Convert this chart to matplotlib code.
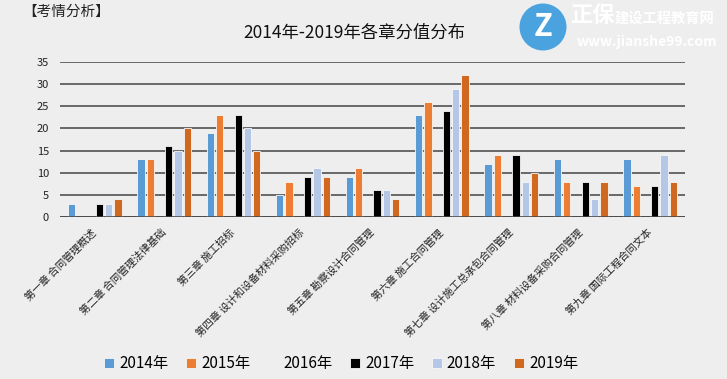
import numpy as np
import matplotlib.pyplot as plt
from matplotlib.patches import Ellipse

plt.rcParams['font.family'] = ['Noto Sans CJK SC', 'DejaVu Sans']

chapters = ['第一章 合同管理概述', '第二章 合同管理法律基础', '第三章 施工招标',
            '第四章 设计和设备材料采购招标', '第五章 勘察设计合同管理', '第六章 施工合同管理',
            '第七章 设计施工总承包合同管理', '第八章 材料设备采购合同管理', '第九章 国际工程合同文本']
years = ['2014年', '2015年', '2016年', '2017年', '2018年', '2019年']
v2014 = [3, 13, 19, 5, 9, 23, 12, 13, 13]
v2015 = [0, 13, 23, 8, 11, 26, 14, 8, 7]
v2016 = [0, 0, 0, 0, 0, 0, 0, 0, 0]
v2017 = [3, 16, 23, 9, 6, 24, 14, 8, 7]
v2018 = [3, 15, 20, 11, 6, 29, 8, 4, 14]
v2019 = [4, 20, 15, 9, 4, 32, 10, 8, 8]
series = [v2014, v2015, v2016, v2017, v2018, v2019]
colors = ['#5B9BD5', '#ED7D31', '#EEEEEE', '#000000', '#B4C7E7', '#D0691F']

bg = '#EEEEEE'
fig = plt.figure(figsize=(7.27, 3.79), dpi=100, facecolor=bg)
ax = fig.add_axes([0.0825, 0.4274, 0.8595, 0.409], facecolor=bg)

x = np.arange(len(chapters))
step = 0.134
for i, (vals, c) in enumerate(zip(series, colors)):
    ax.bar(x + (i - 2.5) * step, vals, width=0.105, color=c, label=years[i],
           edgecolor='#F7F7F7' if i != 2 else bg, linewidth=0.6, zorder=3)

ax.set_xlim(-0.5, len(chapters) - 0.5)
ax.set_ylim(0, 35)
ax.set_yticks(range(0, 36, 5))
ax.grid(axis='y', color='#444444', linewidth=1.1, zorder=1)
ax.axhline(0, color='#444444', linewidth=1.1, zorder=4)
for s in ax.spines.values():
    s.set_visible(False)
ax.tick_params(length=0, labelsize=8, colors='#222222')
ax.tick_params(axis='y', pad=8)
ax.set_xticks(x)
ax.set_xticklabels(chapters, rotation=45, ha='right', va='center',
                   rotation_mode='anchor', fontsize=7.5)
ax.tick_params(axis='x', pad=10)

fig.text(0.487, 0.913, '2014年-2019年各章分值分布', ha='center', va='center',
         fontsize=12.5, color='#111111')
fig.text(0.030, 0.968, '【考情分析】', ha='left', va='center', fontsize=10.5,
         color='#222222')

# logo
logo = Ellipse((543 / 727, 1 - 27 / 379), 47 / 727, 47 / 379,
               transform=fig.transFigure, facecolor='#4AA3DF', edgecolor='none')
fig.patches.append(logo)
fig.text(543 / 727, 1 - 27 / 379, 'Z', ha='center', va='center', fontsize=22,
         color='white', fontweight='bold', style='italic')
fig.text(570 / 727, 1 - 16 / 379, '正保', ha='left', va='center', fontsize=16,
         color='white', fontweight='bold')
fig.text(615 / 727, 1 - 19 / 379, '建设工程教育网', ha='left', va='center', fontsize=10.3,
         color='white', fontweight='bold')
fig.text(577 / 727, 1 - 42 / 379, 'www.jianshe99.com', ha='left', va='center',
         fontsize=10, color='white', fontweight='bold')

fig.legend(loc='center', bbox_to_anchor=(0.469, 0.04), ncol=6, frameon=False,
           fontsize=11, handlelength=0.7, handleheight=0.7, handletextpad=0.3,
           columnspacing=1.15)

fig.savefig('out.png', dpi=100, facecolor=bg)
